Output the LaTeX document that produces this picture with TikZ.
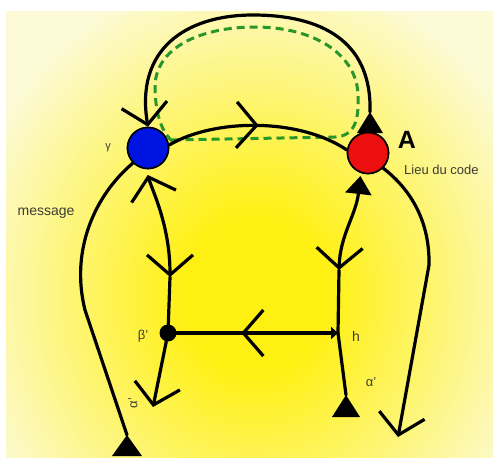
\documentclass[tikz,border=0pt]{standalone}
\usepackage{fontspec}
\setmainfont{Liberation Sans}
\usetikzlibrary{arrows.meta,decorations.markings}
\definecolor{bgA}{RGB}{255,240,20}
\definecolor{bgB}{RGB}{252,250,215}
\definecolor{nodeBlue}{RGB}{0,20,225}
\definecolor{nodeRed}{RGB}{235,15,15}
\definecolor{dashGreen}{RGB}{40,150,40}
\definecolor{lblGray}{RGB}{60,60,50}
\pgfdeclareradialshading{bgshade}{\pgfpoint{0bp}{0bp}}{color(0bp)=(bgA); color(6bp)=(bgA); color(25bp)=(bgB); color(50bp)=(bgB)}
\tikzset{
  openV/.tip={Straight Barb[length=20pt,width=46pt]},
  conn/.style={line width=3.2pt, draw=black, line cap=round, line join=round},
  midV/.style={postaction={decorate}, decoration={markings, mark=at position #1 with {\arrow[line width=3.2pt]{Straight Barb[length=20pt,width=46pt]}}}},
  midV/.default=0.5,
  bnode/.style={circle, draw=black, line width=1.6pt, minimum size=41pt, inner sep=0pt},
  dotnode/.style={circle, fill=black, minimum size=17pt, inner sep=0pt},
  lbl/.style={text=lblGray, inner sep=0pt},
  greenDash/.style={draw=dashGreen, line width=3pt, dash pattern=on 8pt off 5pt}
}
\begin{document}
\begin{tikzpicture}[x=1pt,y=-1pt]
\useasboundingbox (0,0) rectangle (497,459);
\fill[white] (0,0) rectangle (497,459);
\begin{scope}
  \clip (6,11) rectangle (493,457);
  \fill[bgB] (6,11) rectangle (493,457);
  \shade[shading=bgshade] (255,295) ellipse (300 and 330);
\end{scope}

% nodes and points
\node[bnode, fill=nodeBlue] (blue) at (148,148) {};
\node[bnode, fill=nodeRed] (red) at (368,153) {};
\node[dotnode] (beta) at (168,333) {};
\coordinate (h) at (338,333);
\coordinate (tri1) at (370,112);
\coordinate (lvj) at (170,277);
\coordinate (rvj) at (339,270);
\coordinate (a1) at (153,407);
\coordinate (t2) at (346,395);
\coordinate (t3) at (127,435);
\coordinate (ra) at (398,437);

% green dashed loop
\draw[greenDash] (172,141) .. controls (160,130) and (155,110) .. (155,85)
  .. controls (157,45) and (205,27) .. (255,27)
  .. controls (315,27) and (357,55) .. (358,95)
  .. controls (359,120) and (355,136) .. (335,137) -- (172,140);

% connectors
\draw[conn, -{openV}] (tri1) .. controls (372,40) and (320,15) .. (253,15)
  .. controls (185,15) and (135,50) .. (blue.north);
\draw[conn, midV] (blue.8) .. controls (215,118) and (300,118) .. (red.172);
\draw[conn, {openV}-{openV}, shorten <=6pt] (blue.-95) .. controls (152,190) and (170,225) .. (lvj);
\draw[conn] (lvj) -- (beta);
\draw[conn, {Triangle[length=18pt,width=26pt]}-{openV}, shorten <=3pt] (red.-110) .. controls (356,215) and (340,235) .. (rvj);
\draw[conn] (rvj) -- (h);
\draw[conn, {Triangle[length=7pt,width=12pt]}-, midV=0.6] (h) -- (beta);
\draw[conn, -{openV}] (beta) -- (a1);
\draw[conn] (h) -- (t2);
\draw[conn] (blue.-135) .. controls (95,195) and (70,250) .. (85,310) -- (t3);
\draw[conn, -{openV}] (red.-45) .. controls (405,185) and (430,215) .. (429,265) -- (ra);

% end triangles
\fill (tri1) -- ++(-13,21) -- ++(26,0) -- cycle;
\fill (t2) -- ++(-14,22) -- ++(28,0) -- cycle;
\fill (t3) -- ++(-15,21) -- ++(30,0) -- cycle;

% redraw nodes on top
\node[bnode, fill=nodeBlue] at (blue) {};
\node[bnode, fill=nodeRed] at (red) {};

% labels
\node[lbl, font=\fontsize{11}{11}\selectfont] (lgamma) at (108,148) {γ};
\node[lbl, font=\fontsize{14}{14}\selectfont] (lmsg) at (46,213) {message};
\node[text=black, inner sep=0pt, font=\fontsize{25}{25}\selectfont\bfseries] (lA) at (407,140) {A};
\node[lbl, font=\fontsize{13}{13}\selectfont, anchor=west] (llieu) at (404,170) {Lieu du code};
\node[lbl, font=\fontsize{13}{13}\selectfont] (lbeta) at (143,336) {β'};
\node[lbl, font=\fontsize{14}{14}\selectfont] (lh) at (356,336) {h};
\node[lbl, font=\fontsize{13}{13}\selectfont] (lalpha2) at (371,382) {α'};
\node[lbl, font=\fontsize{13}{13}\selectfont, rotate=90] (lalpha1) at (133,403) {α'};
\end{tikzpicture}
\end{document}
